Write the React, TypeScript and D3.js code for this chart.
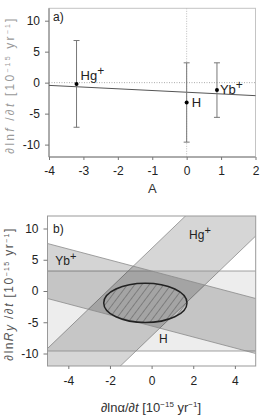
import React, { useEffect, useRef } from "react";
import * as d3 from "d3";

// clock data (panel a)
const clocks = ["Hg+", "H", "Yb+"];
const sensitivityA = [-3.2, 0, 0.88];
const driftValues = [-0.2, -3.2, -1.2];
const driftErrors = [7.0, 6.4, 4.4];

// weighted fit line
const fitA = [-4, 2];
const fitDrift = [-0.44, -2.1];

// combined constraint (panel b)
const ellipseCenter = [-0.3, -1.9];
const ellipseRadii = [2.0, 3.15];

const ticksA = [-4, -3, -2, -1, 0, 1, 2];
const ticksDrift = [-10, -5, 0, 5, 10];
const ticksAlpha = [-4, -2, 0, 2, 4];

const FONT = "'Liberation Sans', Arial, sans-serif";

const App = () => {
  const svgRef = useRef<SVGSVGElement>(null);

  useEffect(() => {
    const svg = d3.select(svgRef.current);
    svg.selectAll("*").remove();

    const styleAxis = (g: any) => {
      g.select(".domain").remove();
      g.selectAll(".tick line").attr("stroke", "#777");
      g.selectAll(".tick text")
        .attr("fill", "#222")
        .attr("font-size", 12)
        .attr("font-family", FONT);
    };
    const fmt = (d: any) => String(d);

    // ---------- panel a ----------
    const xa = d3.scaleLinear().domain([-4, 2]).range([49, 255.5]);
    const ya = d3.scaleLinear().domain([-12, 12]).range([157, 8.3]);
    const a = svg.append("g");

    a.append("rect")
      .attr("x", xa(-4))
      .attr("y", ya(12))
      .attr("width", xa(2) - xa(-4))
      .attr("height", ya(-12) - ya(12))
      .attr("fill", "none")
      .attr("stroke", "#c4c4c4");

    // dotted zero lines
    a.append("line")
      .attr("x1", xa(-4)).attr("x2", xa(2))
      .attr("y1", ya(0)).attr("y2", ya(0))
      .attr("stroke", "#aaa").attr("stroke-dasharray", "1,1.5");
    a.append("line")
      .attr("x1", xa(0)).attr("x2", xa(0))
      .attr("y1", ya(12)).attr("y2", ya(-12))
      .attr("stroke", "#bbb").attr("stroke-dasharray", "1,1.5");

    a.append("g")
      .attr("transform", `translate(${xa(-4)},0)`)
      .call(d3.axisLeft(ya).tickValues(ticksDrift).tickFormat(fmt).tickSize(4).tickPadding(5))
      .call(styleAxis);
    a.append("g")
      .attr("transform", `translate(0,${ya(-12)})`)
      .call(d3.axisBottom(xa).tickValues(ticksA).tickFormat(fmt).tickSize(3).tickPadding(6))
      .call(styleAxis);
    a.append("line")
      .attr("x1", xa(-4)).attr("x2", xa(-4))
      .attr("y1", ya(12)).attr("y2", ya(-12))
      .attr("stroke", "#777");
    a.append("line")
      .attr("x1", xa(-4)).attr("x2", xa(2))
      .attr("y1", ya(-12)).attr("y2", ya(-12))
      .attr("stroke", "#777");

    // fit line
    a.append("line")
      .attr("x1", xa(fitA[0])).attr("y1", ya(fitDrift[0]))
      .attr("x2", xa(fitA[1])).attr("y2", ya(fitDrift[1]))
      .attr("stroke", "#555").attr("stroke-width", 1);

    const idx = d3.range(clocks.length);
    const bars = a.selectAll(".err").data(idx).enter().append("g");
    bars.append("line")
      .attr("x1", (i) => xa(sensitivityA[i]))
      .attr("x2", (i) => xa(sensitivityA[i]))
      .attr("y1", (i) => ya(driftValues[i] + driftErrors[i]))
      .attr("y2", (i) => ya(driftValues[i] - driftErrors[i]))
      .attr("stroke", "#777");
    [1, -1].forEach((s) => {
      bars.append("line")
        .attr("x1", (i) => xa(sensitivityA[i]) - 3)
        .attr("x2", (i) => xa(sensitivityA[i]) + 3)
        .attr("y1", (i) => ya(driftValues[i] + s * driftErrors[i]))
        .attr("y2", (i) => ya(driftValues[i] + s * driftErrors[i]))
        .attr("stroke", "#777");
    });
    bars.append("circle")
      .attr("cx", (i) => xa(sensitivityA[i]))
      .attr("cy", (i) => ya(driftValues[i]))
      .attr("r", 2)
      .attr("fill", "#000");

    const labelText = (g: any, name: string, x: number, y: number, size = 13) => {
      const t = g.append("text")
        .attr("x", x).attr("y", y)
        .attr("font-family", FONT).attr("font-size", size).attr("fill", "#222");
      const base = name.replace("+", "");
      t.append("tspan").text(base);
      if (name.endsWith("+")) {
        t.append("tspan").attr("dy", -5).attr("font-size", size - 1).text("+");
      }
    };
    const offsets = [[4, -4], [5, 5], [3, 4]];
    idx.forEach((i) =>
      labelText(a, clocks[i], xa(sensitivityA[i]) + offsets[i][0], ya(driftValues[i]) + offsets[i][1])
    );

    a.append("text").attr("x", 53).attr("y", 21)
      .attr("font-family", FONT).attr("font-size", 12).attr("fill", "#222").text("a)");

    a.append("text")
      .attr("x", (xa(-4) + xa(2)) / 2).attr("y", 193)
      .attr("text-anchor", "middle")
      .attr("font-family", FONT).attr("font-size", 13).attr("fill", "#333").text("A");

    const yLabA = a.append("text")
      .attr("transform", `translate(14,85) rotate(-90)`)
      .attr("text-anchor", "middle")
      .attr("font-family", FONT).attr("font-size", 12).attr("fill", "#999")
      .attr("letter-spacing", 2.2);
    yLabA.append("tspan").text("∂ln");
    yLabA.append("tspan").attr("font-style", "italic").text("f");
    yLabA.append("tspan").text(" /∂");
    yLabA.append("tspan").attr("font-style", "italic").text("t");
    yLabA.append("tspan").text("  [10");
    yLabA.append("tspan").attr("dy", -4).attr("font-size", 7).text("−15");
    yLabA.append("tspan").attr("dy", 4).text("  yr");
    yLabA.append("tspan").attr("dy", -4).attr("font-size", 7).text("−1");
    yLabA.append("tspan").attr("dy", 4).text("]");

    // ---------- panel b ----------
    const xb = d3.scaleLinear().domain([-5, 5]).range([47.5, 255.7]);
    const yb = d3.scaleLinear().domain([-12, 12]).range([366, 216]);
    const b = svg.append("g");

    b.append("clipPath").attr("id", "clipB")
      .append("rect")
      .attr("x", xb(-5)).attr("y", yb(12))
      .attr("width", xb(5) - xb(-5)).attr("height", yb(-12) - yb(12));

    const defs = svg.append("defs");
    const pat = defs.append("pattern")
      .attr("id", "hatch")
      .attr("patternUnits", "userSpaceOnUse")
      .attr("width", 5.8).attr("height", 10)
      .attr("patternTransform", "rotate(37)");
    pat.append("line")
      .attr("x1", 0).attr("x2", 0).attr("y1", 0).attr("y2", 10)
      .attr("stroke", "#555").attr("stroke-width", 1);

    const bandOpacity = [0.16, 0.07, 0.17];
    const bands = b.append("g").attr("clip-path", "url(#clipB)");
    const xs = [-5, 5];
    idx.forEach((i) => {
      const A = sensitivityA[i];
      const lo = (x: number) => driftValues[i] - driftErrors[i] - A * x;
      const hi = (x: number) => driftValues[i] + driftErrors[i] - A * x;
      const pts: [number, number][] = [
        [xb(xs[0]), yb(lo(xs[0]))],
        [xb(xs[1]), yb(lo(xs[1]))],
        [xb(xs[1]), yb(hi(xs[1]))],
        [xb(xs[0]), yb(hi(xs[0]))],
      ];
      bands.append("polygon")
        .attr("points", pts.map((p) => p.join(",")).join(" "))
        .attr("fill", "#000").attr("fill-opacity", bandOpacity[i]);
      [lo, hi].forEach((f) => {
        bands.append("line")
          .attr("x1", xb(xs[0])).attr("y1", yb(f(xs[0])))
          .attr("x2", xb(xs[1])).attr("y2", yb(f(xs[1])))
          .attr("stroke", "#8a8a8a").attr("stroke-width", 0.8);
      });
    });

    const ell = b.append("ellipse")
      .attr("cx", xb(ellipseCenter[0])).attr("cy", yb(ellipseCenter[1]))
      .attr("rx", xb(ellipseCenter[0] + ellipseRadii[0]) - xb(ellipseCenter[0]))
      .attr("ry", yb(ellipseCenter[1]) - yb(ellipseCenter[1] + ellipseRadii[1]));
    ell.attr("fill", "url(#hatch)").attr("stroke", "#222").attr("stroke-width", 1.5);

    b.append("rect")
      .attr("x", xb(-5)).attr("y", yb(12))
      .attr("width", xb(5) - xb(-5)).attr("height", yb(-12) - yb(12))
      .attr("fill", "none").attr("stroke", "#999");

    b.append("g")
      .attr("transform", `translate(${xb(-5)},0)`)
      .call(d3.axisLeft(yb).tickValues(ticksDrift).tickFormat(fmt).tickSize(4).tickPadding(5))
      .call(styleAxis);
    b.append("g")
      .attr("transform", `translate(0,${yb(-12)})`)
      .call(d3.axisBottom(xb).tickValues(ticksAlpha).tickFormat(fmt).tickSize(3).tickPadding(7))
      .call(styleAxis);

    const bandLabelPos = [[1.8, 8.25], [0.35, -8.34], [-4.63, 4.15]];
    idx.forEach((i) =>
      labelText(b, clocks[i], xb(bandLabelPos[i][0]), yb(bandLabelPos[i][1]), 12)
    );

    b.append("text").attr("x", 53).attr("y", 233)
      .attr("font-family", FONT).attr("font-size", 12).attr("fill", "#222").text("b)");

    const xLabB = b.append("text")
      .attr("x", 151).attr("y", 412)
      .attr("text-anchor", "middle")
      .attr("font-family", FONT).attr("font-size", 13).attr("fill", "#333");
    xLabB.append("tspan").text("∂lnα/∂");
    xLabB.append("tspan").attr("font-style", "italic").text("t");
    xLabB.append("tspan").text("  [10");
    xLabB.append("tspan").attr("dy", -5).attr("font-size", 8).text("−15");
    xLabB.append("tspan").attr("dy", 5).text(" yr");
    xLabB.append("tspan").attr("dy", -5).attr("font-size", 8).text("−1");
    xLabB.append("tspan").attr("dy", 5).text("]");

    const yLabB = b.append("text")
      .attr("transform", `translate(13,294) rotate(-90)`)
      .attr("text-anchor", "middle")
      .attr("font-family", FONT).attr("font-size", 12).attr("fill", "#555")
      .attr("letter-spacing", 1.4);
    yLabB.append("tspan").text("∂ln");
    yLabB.append("tspan").attr("font-style", "italic").text("R");
    yLabB.append("tspan").attr("font-style", "italic").attr("dy", 1).text("y");
    yLabB.append("tspan").attr("dy", -1).text(" /∂");
    yLabB.append("tspan").attr("font-style", "italic").text("t");
    yLabB.append("tspan").text("  [10");
    yLabB.append("tspan").attr("dy", -4).attr("font-size", 7).text("−15");
    yLabB.append("tspan").attr("dy", 4).text("  yr");
    yLabB.append("tspan").attr("dy", -4).attr("font-size", 7).text("−1");
    yLabB.append("tspan").attr("dy", 4).text("]");
  }, []);

  return (
    <svg
      ref={svgRef}
      width={273}
      height={415}
      style={{ position: "absolute", left: 0, top: 0, background: "#fff" }}
    ></svg>
  );
};

export default App;
